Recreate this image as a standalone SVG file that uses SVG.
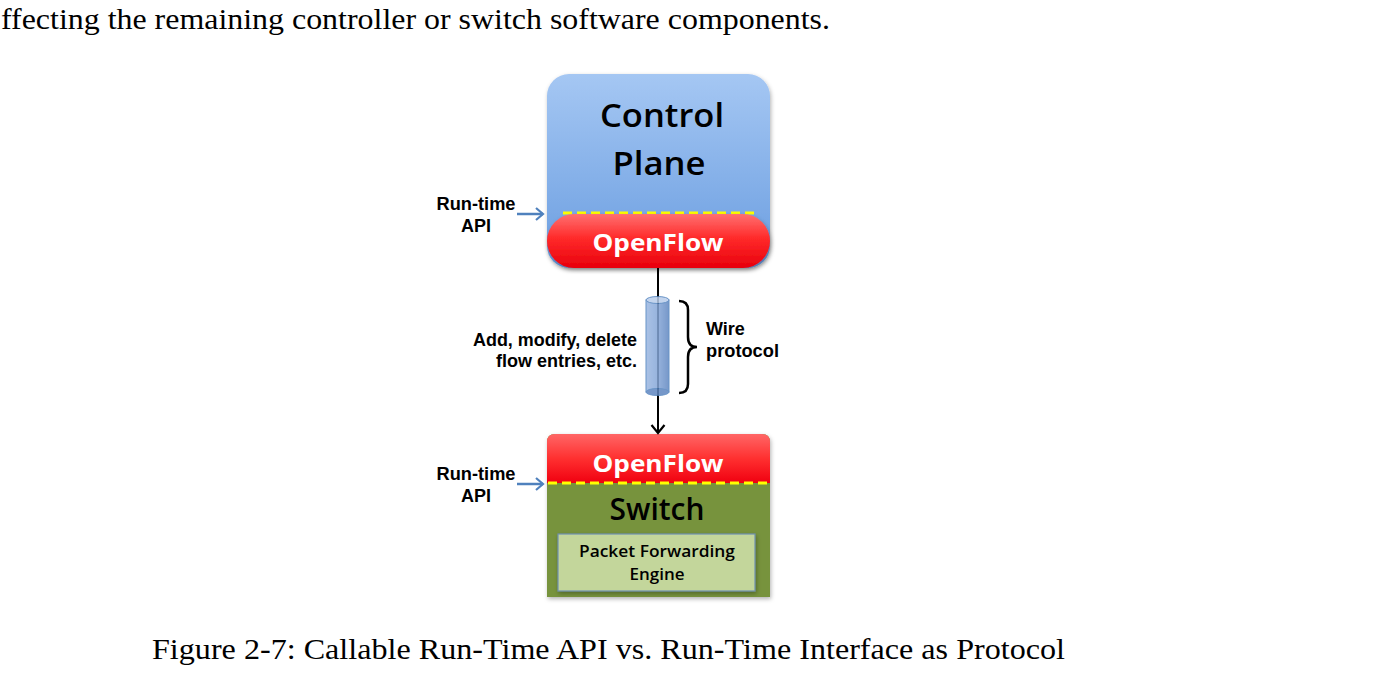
<svg xmlns="http://www.w3.org/2000/svg" width="1378" height="686" viewBox="0 0 1378 686">
<defs>
<linearGradient id="blue" x1="0" y1="0" x2="0" y2="1">
<stop offset="0" stop-color="#a5c7f3"/>
<stop offset="1" stop-color="#6a9de0"/>
</linearGradient>
<linearGradient id="red" x1="0" y1="0" x2="0" y2="1">
<stop offset="0" stop-color="#ff7070"/>
<stop offset="0.45" stop-color="#ff2a2a"/>
<stop offset="1" stop-color="#e8000c"/>
</linearGradient>
<linearGradient id="red2" x1="0" y1="0" x2="0" y2="1">
<stop offset="0" stop-color="#ff6666"/>
<stop offset="0.5" stop-color="#ff3030"/>
<stop offset="1" stop-color="#f00010"/>
</linearGradient>
<linearGradient id="cyl" x1="0" y1="0" x2="1" y2="0">
<stop offset="0" stop-color="#9cb8e2"/>
<stop offset="0.5" stop-color="#86a7d8"/>
<stop offset="1" stop-color="#5f86c0"/>
</linearGradient>
<filter id="sh" x="-10%" y="-10%" width="120%" height="120%">
<feDropShadow dx="1" dy="2" stdDeviation="2" flood-color="#000" flood-opacity="0.3"/>
</filter>
<marker id="blk" markerWidth="16" markerHeight="16" refX="12" refY="8" orient="auto" markerUnits="userSpaceOnUse">
<path d="M4,1.5 L12,8 L4,14.5" fill="none" stroke="#000" stroke-width="2.2"/>
</marker>
<marker id="blu" markerWidth="16" markerHeight="16" refX="12" refY="8" orient="auto" markerUnits="userSpaceOnUse">
<path d="M5,2 L12,8 L5,14" fill="none" stroke="#4f81bd" stroke-width="2.2"/>
</marker>
</defs>
<style>
.body{font-family:"Liberation Serif","Times New Roman",serif;fill:#000;font-size:29px}
.lbl{font-family:"Liberation Sans",Arial,sans-serif;font-weight:bold;font-size:18px;fill:#000}
.big{font-family:"Open Sans","Noto Sans",sans-serif;font-weight:600;fill:#000;text-anchor:middle}
.of{font-family:"Open Sans","Noto Sans",sans-serif;font-weight:700;fill:#fff;font-size:24px;text-anchor:middle}
.dash{stroke:#ffff00;stroke-width:3;stroke-dasharray:9,5}
</style>

<text class="body" x="1" y="29" textLength="829" lengthAdjust="spacingAndGlyphs">ffecting the remaining controller or switch software components.</text>

<g id="control-plane">
<rect x="547" y="74" width="223" height="194" rx="22" fill="url(#blue)" filter="url(#sh)"/>
<text class="big" x="662" y="127" font-size="32" textLength="124" lengthAdjust="spacingAndGlyphs">Control</text>
<text class="big" x="659" y="175" font-size="32" textLength="93" lengthAdjust="spacingAndGlyphs">Plane</text>
<line class="dash" x1="563" y1="213" x2="756" y2="213"/>
<rect x="547" y="214" width="223" height="54" rx="27" fill="url(#red)" filter="url(#sh)"/>
<text class="of" x="658" y="251" textLength="131" lengthAdjust="spacingAndGlyphs">OpenFlow</text>
</g>

<g id="switch">
<path d="M555,434 H762 Q770,434 770,442 V597 H547 V442 Q547,434 555,434 Z" fill="#77933c" filter="url(#sh)"/>
<path d="M555,434 H762 Q770,434 770,442 V483 H547 V442 Q547,434 555,434 Z" fill="url(#red2)"/>
<line class="dash" x1="548" y1="483" x2="770" y2="483"/>
<text class="of" x="658" y="472" textLength="131" lengthAdjust="spacingAndGlyphs">OpenFlow</text>
<text class="big" x="657" y="520" font-size="30" font-weight="500" textLength="95" lengthAdjust="spacingAndGlyphs">Switch</text>
</g>

<g id="packet-forwarding-engine">
<rect x="558" y="534" width="197" height="57" fill="#c3d69b" stroke="#6f8fb0" stroke-width="1.2" filter="url(#sh)"/>
<text class="big" x="657" y="557" font-size="17" textLength="156" lengthAdjust="spacingAndGlyphs">Packet Forwarding</text>
<text class="big" x="657" y="580" font-size="17" textLength="55" lengthAdjust="spacingAndGlyphs">Engine</text>
</g>

<g id="run-time-api-top">
<text class="lbl" x="476" y="210" text-anchor="middle" textLength="79" lengthAdjust="spacingAndGlyphs">Run-time</text>
<text class="lbl" x="476" y="232" text-anchor="middle">API</text>
</g>
<g id="run-time-api-bottom">
<text class="lbl" x="476" y="480" text-anchor="middle" textLength="79" lengthAdjust="spacingAndGlyphs">Run-time</text>
<text class="lbl" x="476" y="502" text-anchor="middle">API</text>
</g>

<g id="connectors">
<line x1="517" y1="214" x2="543" y2="214" stroke="#4f81bd" stroke-width="2.5" marker-end="url(#blu)"/>
<line x1="517" y1="484" x2="543" y2="484" stroke="#4f81bd" stroke-width="2.5" marker-end="url(#blu)"/>
<line x1="658" y1="268" x2="658" y2="433" stroke="#000" stroke-width="2" marker-end="url(#blk)"/>
</g>

<g id="wire-cylinder" opacity="0.85">
<rect x="646" y="300" width="23" height="92" fill="url(#cyl)" stroke="#4f81bd" stroke-width="1"/>
<ellipse cx="657.5" cy="392" rx="11.5" ry="3.5" fill="#5f86c0" stroke="#4f81bd" stroke-width="1"/>
<ellipse cx="657.5" cy="300" rx="11.5" ry="3.5" fill="#b9cdea" stroke="#4f81bd" stroke-width="1"/>
</g>

<g id="wire-protocol">
<path d="M679,301 Q688,301 688,310 V337 Q688,347 697,347 Q688,347 688,357 V384 Q688,393 679,393" fill="none" stroke="#000" stroke-width="2.5"/>
<text class="lbl" x="706" y="335">Wire</text>
<text class="lbl" x="706" y="357" textLength="73" lengthAdjust="spacingAndGlyphs">protocol</text>
</g>

<g id="flow-label">
<text class="lbl" x="637" y="346" text-anchor="end" textLength="164" lengthAdjust="spacingAndGlyphs">Add, modify, delete</text>
<text class="lbl" x="637" y="367" text-anchor="end" textLength="141" lengthAdjust="spacingAndGlyphs">flow entries, etc.</text>
</g>

<text class="body" x="152" y="659" textLength="913" lengthAdjust="spacingAndGlyphs">Figure 2-7: Callable Run-Time API vs. Run-Time Interface as Protocol</text>
</svg>
